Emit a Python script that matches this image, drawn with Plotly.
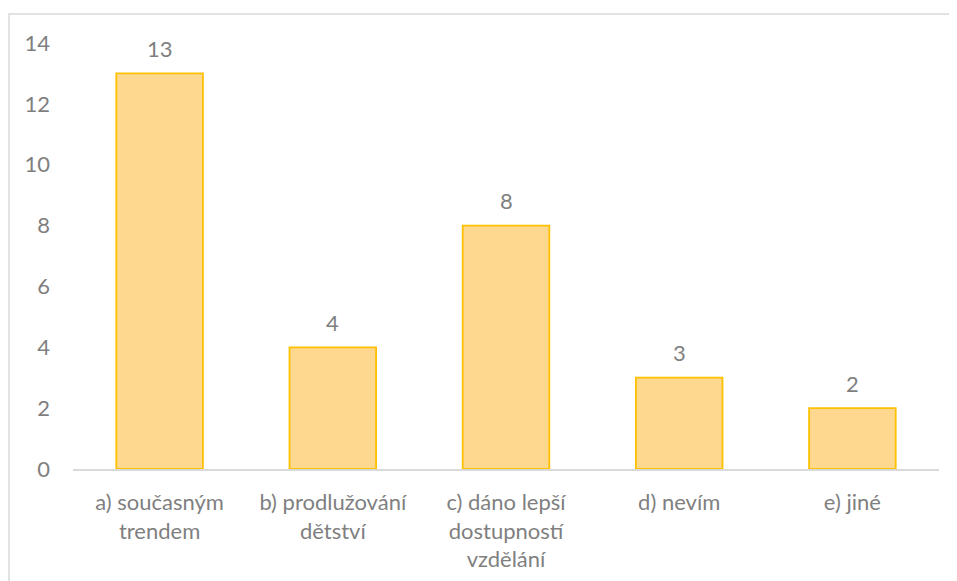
import plotly.graph_objects as go

categories = ["a) současným<br>trendem", "b) prodlužování<br>dětství",
              "c) dáno lepší<br>dostupností<br>vzdělání", "d) nevím", "e) jiné"]
values = [13, 4, 8, 3, 2]
y_ticks = [0, 2, 4, 6, 8, 10, 12, 14]

FONT = "Lato"
GREY = "#7F7F7F"
FS = 22

fig = go.Figure()
fig.add_trace(go.Bar(
    x=categories, y=values,
    marker=dict(color="#FED88F", line=dict(color="#FFC000", width=1.8)),
    width=0.5,
    hoverinfo="skip",
))

for c, v in zip(categories, values):
    fig.add_annotation(x=c, y=v, text=str(v), showarrow=False,
                       yanchor="middle", yshift=25,
                       font=dict(family=FONT, size=FS, color=GREY))

# page body has an 8px offset
W, H = 949, 573
L, R, T, B = 65, 18, 35, 112
pw, ph = W - L - R, H - T - B
fig.add_shape(type="rect", xref="paper", yref="paper",
              x0=(1 - L) / pw, x1=(W + 20 - L) / pw,
              y0=-(H + 20 - T - ph) / ph, y1=(H - B - 6) / ph,
              line=dict(color="#D9D9D9", width=1.5), fillcolor="rgba(0,0,0,0)",
              layer="below")

fig.update_layout(
    width=W, height=H,
    margin=dict(l=L, r=R, t=T, b=B),
    paper_bgcolor="white", plot_bgcolor="white",
    showlegend=False,
    font=dict(family=FONT, size=FS, color=GREY),
    bargap=0.5,
)
fig.update_xaxes(showgrid=False, showline=True, linecolor="#D9D9D9", linewidth=1.5,
                 ticks="", tickfont=dict(family=FONT, size=FS, color=GREY),
                 ticklabelstandoff=13, zeroline=False, automargin=False)
fig.update_yaxes(range=[0, 14], tickvals=y_ticks, showgrid=False, showline=False,
                 zeroline=False, ticks="", tickfont=dict(family=FONT, size=FS, color=GREY),
                 ticklabelstandoff=22, automargin=False)

fig.write_html("out.html")
